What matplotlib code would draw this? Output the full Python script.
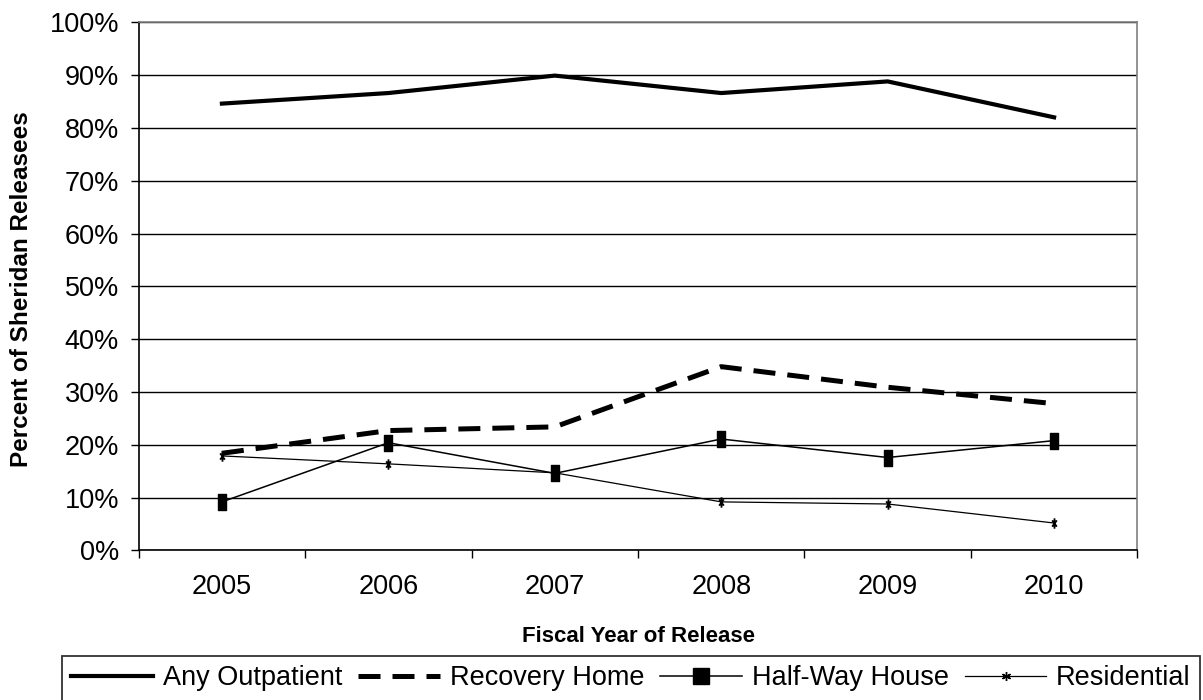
import matplotlib.pyplot as plt
import numpy as np
from matplotlib.path import Path
from matplotlib.lines import Line2D

plt.rcParams['font.family'] = ['Liberation Sans', 'DejaVu Sans']

# values (percent)
years = ['2005', '2006', '2007', '2008', '2009', '2010']
any_outpatient = [84.6, 86.6, 89.9, 86.6, 88.8, 82.0]
recovery_home = [18.4, 22.7, 23.4, 34.8, 30.9, 27.8]
half_way_house = [9.2, 20.4, 14.6, 21.1, 17.6, 20.8]
residential = [17.9, 16.4, 14.7, 9.2, 8.8, 5.2]

# tall markers as they appear in the plot area
tall_box = Path([(-0.5, -1), (0.5, -1), (0.5, 1), (-0.5, 1), (-0.5, -1)],
                [Path.MOVETO, Path.LINETO, Path.LINETO, Path.LINETO, Path.CLOSEPOLY])
tall_star = Path([(0, -1), (0, 1), (-0.45, -0.6), (0.45, 0.6), (-0.45, 0.6), (0.45, -0.6)],
                 [Path.MOVETO, Path.LINETO, Path.MOVETO, Path.LINETO, Path.MOVETO, Path.LINETO])

fig = plt.figure(figsize=(12.03, 7.0), dpi=100)
ax = fig.add_axes([0.1153, 0.2136, 0.8301, 0.7546])

x = np.arange(len(years))

ax.plot(x, any_outpatient, color='black', lw=3.0, solid_joinstyle='miter', zorder=4)
ax.plot(x, recovery_home, color='black', lw=3.6, dashes=(4.4, 2.4), zorder=4)
ax.plot(x, half_way_house, color='black', lw=1.1, marker=tall_box, ms=12.2,
        mfc='black', mec='black', zorder=4)
ax.plot(x, residential, color='black', lw=0.9, marker=tall_star, ms=7.5,
        mfc='none', mec='black', mew=1.3, zorder=4)

ax.set_xlim(-0.5, len(years) - 0.5)
ax.set_ylim(0, 100)
ax.set_xticks(np.arange(-0.5, len(years), 1.0))
ax.set_xticklabels([])
ax.set_xticks(x, minor=True)
ax.set_xticklabels(years, minor=True)
ax.tick_params(axis='x', which='major', direction='out', length=5.8, width=1.0)
ax.tick_params(axis='x', which='minor', length=0, pad=17, labelsize=19.5)

ax.set_yticks(np.arange(0, 101, 10))
ax.set_yticklabels([f'{v}%' for v in range(0, 101, 10)])
ax.tick_params(axis='y', direction='out', length=5.8, width=1.0, pad=8.4, labelsize=19.5)

ax.yaxis.grid(True, color='black', lw=1.0)
ax.set_axisbelow(True)
for side in ['left', 'bottom']:
    ax.spines[side].set_color('black')
    ax.spines[side].set_linewidth(1.2)
for side in ['top', 'right']:
    ax.spines[side].set_color('#808080')
    ax.spines[side].set_linewidth(1.2)

ax.set_xlabel('Fiscal Year of Release', fontsize=16, fontweight='bold')
ax.xaxis.set_label_coords(0.5, -0.143)
fig.text(22 / 1203, 1 - 289 / 700, 'Percent of Sheridan Releasees', fontsize=17.5,
         fontweight='bold', rotation=90, ha='center', va='center')

# legend shows square markers
handles = [
    Line2D([], [], color='black', lw=3.0),
    Line2D([], [], color='black', lw=3.6, dashes=(4.4, 2.4)),
    Line2D([], [], color='black', lw=1.1, marker='s', ms=12.2, mfc='black', mec='black'),
    Line2D([], [], color='black', lw=0.9, marker=(6, 2, 0), ms=6.5, mec='black', mew=1.0),
]
labels = ['Any Outpatient', 'Recovery Home', 'Half-Way House', 'Residential']
leg = fig.legend(handles, labels, loc='upper left', bbox_to_anchor=(62 / 1203, 1 - 656 / 700),
                 ncol=4, fontsize=19.5, frameon=True, fancybox=False, borderaxespad=0,
                 borderpad=0.35, columnspacing=0.6, handlelength=3.0, handletextpad=0.37)
leg.get_frame().set_edgecolor('black')
leg.get_frame().set_linewidth(1.3)

fig.savefig('out.png', dpi=100)
